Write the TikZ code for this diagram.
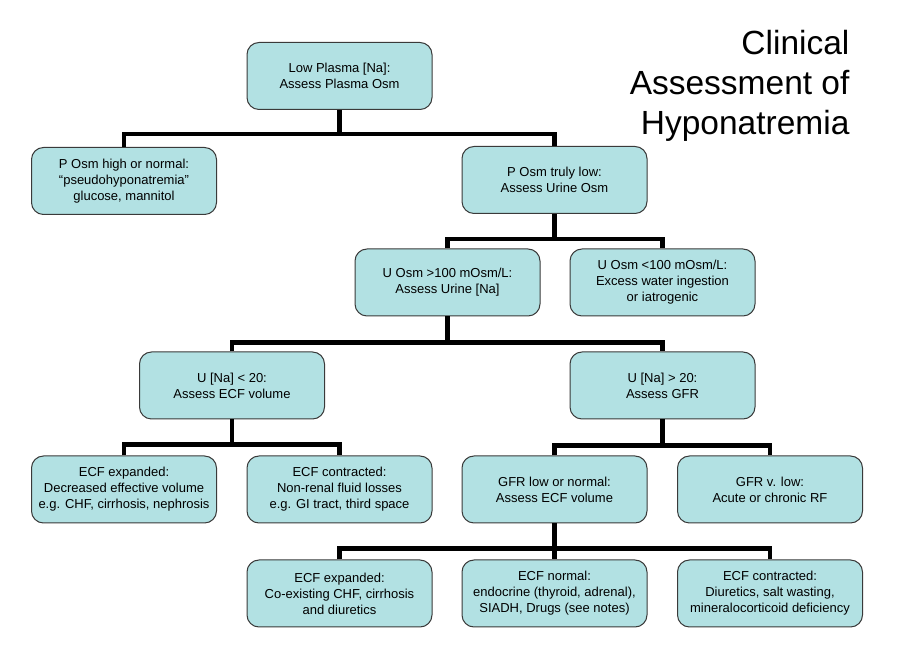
\documentclass[tikz,border=0pt]{standalone}
\usepackage{fontspec}
\setmainfont{Liberation Sans}
\usepackage{tikz}
\usetikzlibrary{calc}
\definecolor{boxfill}{HTML}{B2E1E3}
\definecolor{boxline}{HTML}{3A3A3A}

\begin{document}
\begin{tikzpicture}[
		x=1pt, y=1pt,
		box/.style = {draw=boxline, line width=1pt, fill=boxfill, rounded corners=12pt,
			minimum width=185pt, minimum height=67pt, align=center,
			font=\fontsize{13}{16}\selectfont},
		link/.style = {line width=4.5pt, line join=miter}
		]
		\useasboundingbox (0,0) rectangle (898,659);

		\node[anchor=east, align=right, font=\fontsize{33.5}{40}\selectfont] (title) at (853,573) {Clinical\\Assessment of\\Hyponatremia};

		\node[box] (low) at (339.5,583) {Low Plasma [Na]:\\Assess Plasma Osm};
		\node[box] (pshigh) at (124,478) {P Osm high or normal:\\“pseudohyponatremia”\\glucose, mannitol};
		\node[box] (pslow) at (554.5,479) {P Osm truly low:\\Assess Urine Osm};
		\node[box] (uhigh) at (447.5,376.5) {U Osm >100 mOsm/L:\\Assess Urine [Na]};
		\node[box] (ulow) at (662.5,376.5) {U Osm <100 mOsm/L:\\Excess water ingestion\\or iatrogenic};
		\node[box] (nalow) at (232,273.5) {U [Na] < 20:\\Assess ECF volume};
		\node[box] (nahigh) at (662.5,273.5) {U [Na] > 20:\\Assess GFR};
		\node[box] (expA) at (124,169.5) {ECF expanded:\\Decreased effective volume\\e.g. CHF, cirrhosis, nephrosis};
		\node[box] (conA) at (339.5,169.5) {ECF contracted:\\Non-renal fluid losses\\e.g. GI tract, third space};
		\node[box] (gfrlow) at (554.5,169.5) {GFR low or normal:\\Assess ECF volume};
		\node[box] (gfrvlow) at (770,169.5) {GFR v. low:\\Acute or chronic RF};
		\node[box] (expB) at (339.5,65.5) {ECF expanded:\\Co-existing CHF, cirrhosis\\and diuretics};
		\node[box] (norm) at (554.5,65.5) {ECF normal:\\endocrine (thyroid, adrenal),\\SIADH, Drugs (see notes)};
		\node[box] (conB) at (770,65.5) {ECF contracted:\\Diuretics, salt wasting,\\mineralocorticoid deficiency};

		\draw[link] (low.south) -- ++(0,-24) coordinate (j1);
		\draw[link] (pshigh.north) |- (j1) -| (pslow.north);

		\draw[link] (pslow.south) -- ++(0,-25) coordinate (j2);
		\draw[link] (uhigh.north) |- (j2) -| (ulow.north);

		\draw[link] (uhigh.south) -- ++(0,-26) coordinate (j3);
		\draw[link] (nalow.north) |- (j3) -| (nahigh.north);

		\draw[link] (nalow.south) -- ++(0,-25) coordinate (j4);
		\draw[link] (expA.north) |- (j4) -| (conA.north);

		\draw[link] (nahigh.south) -- ++(0,-26) coordinate (j5);
		\draw[link] (gfrlow.north) |- (j5) -| (gfrvlow.north);

		\draw[link] (gfrlow.south) -- ++(0,-25) coordinate (j6);
		\draw[link] (expB.north) |- (j6) -| (conB.north);
		\draw[link] (j6) -- (norm.north);
	\end{tikzpicture}
\end{document}
